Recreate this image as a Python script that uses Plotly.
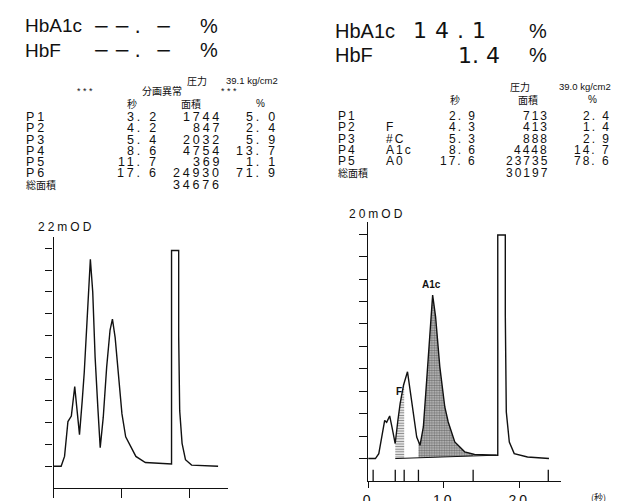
import numpy as np
import plotly.graph_objects as go

W, H = 627, 501
OFF = 8  # the page body adds an 8px margin; shift drawing coordinates to compensate

# ---------------- data ----------------
# left chromatogram (time s, signal in 22mOD divisions)
left_t = [0.0, 1.1, 1.6, 2.1, 2.6, 3.1, 3.4, 3.8, 4.2, 4.5, 4.9, 5.15, 5.4, 5.75, 6.1, 6.5, 6.85,
          7.3, 7.8, 8.3, 8.65, 9.05, 9.55, 10.05, 10.6, 11.1, 11.8, 12.1, 13.5, 15.5, 17.2,
          17.35, 17.35, 18.4, 18.4, 18.55, 18.9, 19.4, 20.3, 22.0, 24.2]
left_v = [0.0, 0.0, 0.45, 2.05, 2.3, 3.65, 2.7, 1.45, 3.0, 4.3, 6.6, 8.4, 9.5, 8.0, 5.0, 2.7, 0.85,
          2.25, 4.55, 6.25, 6.75, 5.9, 4.25, 2.4, 1.35, 1.05, 0.6, 0.45, 0.17, 0.12, 0.1,
          0.1, 9.9, 9.9, 6.0, 2.55, 1.05, 0.3, 0.05, 0.02, 0.0]

# right chromatogram (time s, signal in 20mOD divisions)
right_t = [0.0, 0.96, 1.41, 1.93, 2.19, 2.45, 2.85, 3.15, 3.58, 3.94, 4.24, 4.69, 5.21, 5.55, 6.0,
           6.43, 6.87, 7.31, 7.75, 8.18, 8.54, 8.93, 9.49, 10.15, 10.6, 11.47, 12.78, 14.09,
           16.94, 17.16, 17.16, 18.16, 18.16, 18.29, 18.69, 19.34, 21.1, 23.94]
right_v = [0.0, 0.0, 0.22, 1.26, 1.7, 1.62, 1.9, 1.41, 0.67, 1.71, 2.46, 3.28, 3.87, 3.06, 1.85,
           0.96, 0.59, 1.41, 3.49, 5.73, 7.29, 6.32, 4.09, 2.3, 1.63, 0.74, 0.30, 0.18,
           0.15, 0.15, 9.97, 9.97, 6.4, 2.08, 0.74, 0.22, 0.07, 0.0]

right_peak_marks = [0.66, 3.59, 4.77, 6.66, 13.9, 23.85]
baseline_t = [3.59, 16.94]
baseline_v = [0.0, 0.15]
f_window = [3.59, 4.77]
a1c_window = [6.66, 13.9]

left_peaks = ["P1", "P2", "P3", "P4", "P5", "P6"]
left_sec = [3.2, 4.2, 5.4, 8.6, 11.7, 17.6]
left_area = [1744, 847, 2032, 4754, 369, 24930]
left_pct = [5.0, 2.4, 5.9, 13.7, 1.1, 71.9]
left_total = 34676
left_pressure = "39.1"

right_peaks = ["P1", "P2", "P3", "P4", "P5"]
right_names = ["", "F", "#C", "A1c", "A0"]
right_sec = [2.9, 4.3, 5.3, 8.6, 17.6]
right_area = [713, 413, 888, 4448, 23735]
right_pct = [2.4, 1.4, 2.9, 14.7, 78.6]
right_total = 30197
right_pressure = "39.0"

right_hba1c = 14.1
right_hbf = 1.4
left_scale_label = "22mOD"
right_scale_label = "20mOD"
x_tick_vals = [0, 10, 20]
y_tick_vals = list(range(0, 11))

# ---------------- helpers ----------------
INK = "#111111"
SANS = "Liberation Sans, Arial, sans-serif"
DJ = "DejaVu Sans, sans-serif"
CJK = "Noto Sans CJK JP, sans-serif"


def PX(x):
    return (x - OFF) / W


def PY(y):
    return 1 - (y - OFF) / H


annotations = []


def txt(x, y, s, size, family=SANS, anchor="left", ls=None, color=INK, bold=False):
    if ls is not None:
        s = '<span style="letter-spacing:%spx">%s</span>' % (ls, s)
    if bold:
        s = "<b>" + s + "</b>"
    annotations.append(dict(x=PX(x), y=PY(y), xref="paper", yref="paper", text=s,
                            showarrow=False, xanchor=anchor, yanchor="middle",
                            borderpad=0, font=dict(size=size, family=family, color=color)))


def fdec(v):
    return ("%.1f" % v).replace(".", ". ")


def segment(t, v, lo, hi, bt, bv):
    t = np.asarray(t, float)
    v = np.asarray(v, float)
    keep = t < 16.5
    tt, vv = t[keep], v[keep]
    m = (tt > lo) & (tt < hi)
    xs = [lo] + list(tt[m]) + [hi]
    ys = [float(np.interp(lo, tt, vv))] + list(vv[m]) + [float(np.interp(hi, tt, vv))]
    xs += [hi, lo]
    ys += [float(np.interp(hi, bt, bv)), float(np.interp(lo, bt, bv))]
    return xs, ys


fig = go.Figure()

# shaded areas (right chart)
fx, fy = segment(right_t, right_v, f_window[0], f_window[1], baseline_t, baseline_v)
fig.add_trace(go.Scatter(x=fx, y=fy, xaxis="x2", yaxis="y2", mode="lines", fill="toself",
                         line=dict(width=0), fillcolor="white",
                         fillpattern=dict(shape="-", size=2.6, solidity=0.5, fgcolor="#111111", bgcolor="white"),
                         hoverinfo="skip", showlegend=False))
ax_, ay_ = segment(right_t, right_v, a1c_window[0], a1c_window[1], baseline_t, baseline_v)
fig.add_trace(go.Scatter(x=ax_, y=ay_, xaxis="x2", yaxis="y2", mode="lines", fill="toself",
                         line=dict(width=0), fillcolor="white",
                         fillpattern=dict(shape=".", size=2.5, solidity=0.6, fgcolor="#222222", bgcolor="#c8c8c8"),
                         hoverinfo="skip", showlegend=False))

# integration baseline
fig.add_trace(go.Scatter(x=baseline_t, y=baseline_v, xaxis="x2", yaxis="y2", mode="lines",
                         line=dict(color=INK, width=1), showlegend=False, hoverinfo="skip"))

# curves
fig.add_trace(go.Scatter(x=left_t, y=left_v, mode="lines", line=dict(color=INK, width=1.4),
                         showlegend=False))
fig.add_trace(go.Scatter(x=right_t, y=right_v, xaxis="x2", yaxis="y2", mode="lines",
                         line=dict(color=INK, width=1.4), showlegend=False))

# peak separation marks
mx, my = [], []
for t in right_peak_marks:
    mx += [t, t, None]
    my += [-1, -0.5, None]
fig.add_trace(go.Scatter(x=mx, y=my, xaxis="x2", yaxis="y2", mode="lines",
                         line=dict(color=INK, width=1.3), showlegend=False, hoverinfo="skip"))

axis_common = dict(showgrid=False, zeroline=False, showline=True, linecolor=INK, linewidth=1.4,
                   ticks="outside", tickcolor=INK, tickwidth=1.3, fixedrange=True)

fig.update_layout(
    width=W, height=H, autosize=False,
    margin=dict(l=0, r=0, t=0, b=0),
    paper_bgcolor="white", plot_bgcolor="white",
    xaxis=dict(domain=[PX(49), PX(225)], range=[0, 25.7], tickvals=x_tick_vals, ticklen=9,
               showticklabels=False, anchor="y", **axis_common),
    yaxis=dict(domain=[PY(488), PY(237)], range=[-1, 10.52], tickvals=y_tick_vals,
               ticklen=7, showticklabels=False, anchor="x", **axis_common),
    xaxis2=dict(domain=[PX(366), PX(560)], range=[0, 25.48], tickvals=x_tick_vals,
                ticktext=['<span style="letter-spacing:3px">%d</span>' % v for v in x_tick_vals],
                ticklen=6, tickfont=dict(size=14, family=SANS, color=INK), anchor="y2",
                **axis_common),
    yaxis2=dict(domain=[PY(481), PY(221.7)], range=[-1, 10.56], tickvals=y_tick_vals,
                ticklen=8, showticklabels=False, anchor="x2", **axis_common),
)

# ---------- left header ----------
txt(19, 26, "HbA1c", 19, SANS)
txt(88, 26, "−−. −", 20, DJ, ls=4)
txt(195, 26, "%", 20, SANS)
txt(19, 50, "HbF", 19, SANS)
txt(88, 50, "−−. −", 20, DJ, ls=4)
txt(195, 50, "%", 20, SANS)

# ---------- right header ----------
txt(332, 31, "HbA1c", 20, SANS)
txt(410, 31, fdec(right_hba1c).replace(". ", "."), 22, DJ, ls=8)
txt(527, 31, "%", 20, SANS)
txt(332, 55, "HbF", 20, SANS)
txt(456, 55, fdec(right_hbf), 22, DJ)
txt(527, 55, "%", 20, SANS)

# ---------- left table ----------
txt(182, 80, "圧力", 10, CJK)
txt(222, 80, left_pressure + " kg/cm2", 9.5, SANS)
txt(72, 91, "* * *", 9, SANS)
txt(137, 91, "分画異常", 10, CJK)
txt(217, 91, "* * *", 9, SANS)
txt(128, 104, "秒", 10, CJK, anchor="center")
txt(187, 104, "面積", 10, CJK, anchor="center")
txt(257, 104, "%", 10, SANS, anchor="center")
ROW0, PITCH = 117, 11.3
for i, p in enumerate(left_peaks):
    y = ROW0 + i * PITCH
    txt(20, y, p, 12.5, SANS, ls=3)
    txt(156, y, fdec(left_sec[i]), 12.5, SANS, anchor="right", ls=2.8)
    txt(220, y, str(left_area[i]), 12.5, SANS, anchor="right", ls=2.8)
    txt(276, y, fdec(left_pct[i]), 12.5, SANS, anchor="right", ls=2.8)
y = ROW0 + len(left_peaks) * PITCH
txt(20, y, "総面積", 10, CJK)
txt(220, y, str(left_total), 12.5, SANS, anchor="right", ls=2.8)

# ---------- right table ----------
txt(508, 87, "圧力", 10, CJK)
txt(557, 87, right_pressure + " kg/cm2", 9.5, SANS)
txt(454, 100, "秒", 10, CJK, anchor="center")
txt(527, 100, "面積", 10, CJK, anchor="center")
txt(592, 100, "%", 10, SANS, anchor="center")
RROW0, RPITCH = 116, 11.3
for i, p in enumerate(right_peaks):
    y = RROW0 + i * RPITCH
    txt(335, y, p, 12, SANS, ls=2)
    if right_names[i]:
        txt(383, y, right_names[i], 12, SANS, ls=2)
    txt(477, y, fdec(right_sec[i]), 12, SANS, anchor="right", ls=2)
    txt(549, y, str(right_area[i]), 12, SANS, anchor="right", ls=2)
    txt(612, y, fdec(right_pct[i]), 12, SANS, anchor="right", ls=2)
y = RROW0 + len(right_peaks) * RPITCH
txt(335, y, "総面積", 10, CJK)
txt(549, y, str(right_total), 12, SANS, anchor="right", ls=2)

# ---------- chart labels ----------
txt(32, 227.5, left_scale_label, 12, SANS, ls=3)
txt(346, 214, right_scale_label, 12, SANS, ls=3)
txt(430, 284.5, "A1c", 10, SANS, anchor="center", bold=True)
txt(397.5, 391, "F", 10, SANS, anchor="center", bold=True)
txt(590, 497, "(秒)", 9, CJK)

fig.update_layout(annotations=annotations)
fig.write_html("out.html")
